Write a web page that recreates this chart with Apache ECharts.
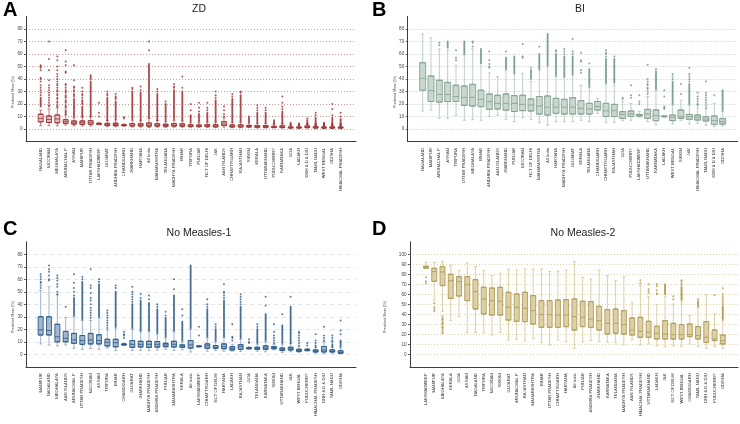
<!DOCTYPE html>
<html><head><meta charset="utf-8">
<script src="https://cdn.jsdelivr.net/npm/echarts@6/dist/echarts.min.js"></script>
<style>html,body{margin:0;padding:0;background:#fff}#c{width:740px;height:424px}</style>
</head><body><div id="c"></div>
<script>
// ---------- DATA ----------
const zdCategories = ["NAGALAND","MIZORAM","MEGHALAYA","ARUNACHAL P","ASSAM","MANIPUR","UTTAR PRADESH","LAKSHADWEEP","GUJARAT","ANDHRA PRADESH","CHANDIGARH","JHARKHAND","HARYANA","All India","MAHARASHTRA","TELANGANA","MADHYA PRADESH","BIHAR","TRIPURA","PUNJAB","NCT OF DELHI","J&K","A&N ISLANDS","CHHATTISGARH","RAJASTHAN","SIKKIM","KERALA","UTTARAKHAND","PUDUCHERRY","KARNATAKA","GOA","LADAKH","DNH & D & DIU","TAMIL NADU","WEST BENGAL","ODISHA","HIMACHAL PRADESH"];
// [lower whisker, Q1, median, Q3, upper whisker]
const zdBoxes = [[2.6,5.8,8.5,11.8,15],[2.6,5.3,7.7,10.4,16],[2.6,5,8,11.2,17],[3.2,4.5,5.8,7.4,11.2],[2.6,4,5,6.4,9],[2.4,3.8,5,6.4,9.5],[2.4,3.8,5,6.6,9.8],[3.5,3.8,4.2,4.5,5],[1.8,2.8,3.5,4.5,6.8],[1.8,2.7,3.5,4.6,7.2],[2.3,2.7,3,3.4,4],[1.6,2.5,3.2,4.4,7],[1.6,2.5,3.2,4.2,6.5],[1.2,2.3,3.2,4.8,8.5],[1.5,2.4,3.1,4.2,6.8],[1.4,2.2,2.8,3.8,6],[1.5,2.4,3.1,4.3,7],[1.5,2.3,3,4.1,6.5],[1.4,2,2.5,3.3,5],[1.3,2,2.5,3.2,5],[1.2,2,2.6,3.5,5.5],[1.1,1.8,2.4,3.4,5.5],[1.5,2.8,4,5.8,9],[1,1.7,2.3,3.2,5.2],[1,1.7,2.3,3.3,5.5],[1.2,1.7,2.2,2.8,4],[0.8,1.4,2,2.8,4.5],[0.8,1.4,2,2.8,4.5],[0.8,1.2,1.6,2.1,3.2],[0.7,1.2,1.7,2.5,4],[0.5,0.9,1.2,1.6,2.4],[0.5,0.9,1.2,1.6,2.4],[0.6,1.2,1.7,2.4,3.8],[0.5,0.9,1.3,1.8,2.9],[0.4,0.8,1.1,1.5,2.4],[0.4,0.8,1.1,1.6,2.6],[0.4,0.8,1.1,1.5,2.4]];
const zdOutliers = [
[51,50,49,47,41,40,38,35,33,31,29,27,25,24,23,22,21,20,19,18],
[70,56,47,39,35,33,31,29,27,25,23,21,19,18],
[58,55,50,47,44,42,40,38,36,35,33,31,30,28,27,25,24,22,21,19,18],
[63,54,51,46,45,36,35,33,31,30,29,27,26,25,23,22,21,19,18,17,15,14,13,12],
[51,39,34,33,31,30,28,27,26,24,23,22,21,20,19,18,17,16,15,14,13,12,11,10],
[33,30,28,27,25,23,22,21,20,18,17,16,15,14,13,12,11,10],
[43,42,41,40,38,37,36,35,34,33,32,31,30,29,28,27,26,25,24,23,22,21,20,19,18,17,16,15,14,13,12,11,10],
[21,13,10],
[30,28,27,25,24,23,22,21,20,19,18,17,16,15,14,13,12,11,10,9,8,7],
[28,26,25,24,22,21,20,19,18,17,16,15,14,13,12,11,10,9,8],
[9.5,8.5],
[33,32,30,29,28,27,26,25,24,23,22,21,20,19,18,17,16,15,14,13,12,11,10,9,8],
[34,31,29,28,27,26,25,24,23,22,21,20,19,18,17,16,15,14,13,12,11,10,9,8,7],
[70,63,52,51,50,49,48,47,46,45,44,43,42,41,40,39,38,37,36,35,34,33,32,31,30,29,28,27,26,25,24,23,22,21,20,19,18,17,16,15,14,13,12,11,10,9],
[32,30,28,27,26,25,24,23,22,21,20,19,18,17,16,15,14,13,12,11,10,9,8,7],
[22,20,19,18,17,16,15,14,13,12,11,10,9,8,7],
[36,34,33,31,30,29,28,27,26,25,24,23,22,21,20,19,18,17,16,15,14,13,12,11,10,9,8],
[42,33,30,29,28,27,26,25,24,23,22,21,20,19,18,17,16,15,14,13,12,11,10,9,8,7],
[20,15,11,10,9,8,7,6],
[21,17,14,12,11,10,9,8,7,6],
[21,17,15,13,12,11,10,9,8,7,6],
[30,27,25,23,22,21,20,19,18,17,16,15,14,13,12,11,10,9,8,7,6],
[18,15,12,10],
[28,26,24,23,22,21,20,19,18,17,16,15,14,13,12,11,10,9,8,7,6],
[30,29,27,26,25,24,23,22,21,20,19,18,17,16,15,14,13,12,11,10,9,8,7,6],
[10,9,8,7,6,5],
[19,17,15,13,12,11,10,9,8,7,6,5],
[17,15,13,12,11,10,9,8,7,6,5],
[7,6,5,4.5,4],
[26,21,18,16,14,13,12,11,10,9,8,7,6,5,4.5],
[5,4,3.5,3],
[4.5,4,3.5,3],
[8.5,7,6,5,4.5,4],
[13,11,9,8,7,6,5,4.5,4,3.5,3.2],
[5,4.5,4,3.5,3,2.7],
[20,16,11,9,8,7,6,5,4.5,4,3.5,3,2.8],
[13,10,8,7,6,5,4.5,4,3.5,3,2.7]];

const biCategories = ["NAGALAND","MANIPUR","ARUNACHAL P","ASSAM","TRIPURA","UTTAR PRADESH","MEGHALAYA","BIHAR","ANDHRA PRADESH","A&N ISLANDS","JHARKHAND","PUNJAB","MIZORAM","NCT OF DELHI","MAHARASHTRA","All India","HARYANA","MADHYA PRADESH","GUJARAT","KERALA","TELANGANA","CHANDIGARH","CHHATTISGARH","RAJASTHAN","GOA","PUDUCHERRY","LAKSHADWEEP","UTTARAKHAND","KARNATAKA","LADAKH","WEST BENGAL","SIKKIM","J&K","HIMACHAL PRADESH","TAMIL NADU","DNH & D & DIU","ODISHA"];
const biBoxes = [[14.4,31,40.5,53,76],[15,22,30.7,42.4,73],[8.5,21.6,27.7,39,64],[8.5,22,27.7,37.3,63],[11,22,26,35,51],[7,19,25.3,34.4,59],[7.5,18.4,25.3,35.7,64],[7,17.9,23.7,31,52.5],[10,15.7,21.9,28,45],[11,16,20.5,27,42],[7.7,15,20.5,28,47],[6,14,20.5,26.7,44],[9,14.7,19.7,27,44.5],[7.7,14.4,19.2,24,38],[5,12,18.4,26,47],[3,11.2,17.5,26.4,50],[6,12.5,17.5,24.5,42],[6,12,17.5,23.7,41],[6,12,17.5,25,43],[7,12,16.5,22.7,35],[6,12,16,20.5,33],[12.5,15.2,18,22,24.5],[5,10,14.5,20.5,36],[5,10,14.7,19.7,35],[6.7,8.5,11.7,13.9,22],[7,10,12,14.4,20.5],[9.5,10.4,11,11.7,14],[6,8.5,12,15.7,26],[3.2,6.7,10.7,15.2,31],[9,9.9,10,10.4,11],[4,6.7,9.3,11.2,19],[7,8.5,9.9,15.2,23],[4,7.7,9.9,11.7,19],[4.5,7.2,9.3,11.2,17],[3,6.4,8,9.9,16],[2,3.7,6.7,10.4,20.5],[2.4,4,5.9,8.3,14]];
const biOutliers = [
[],[],[69,67],[70,69,68,67,66,65],[63,57,55],[70,69,68,67,66,65,64,63,62,61,60],[70,69,66],
[64,63,62,61,60,59,58,57,56,55,54,53],[62,55,52,50,49],[],
[62,57,56,55,54,53,52,51,50,49,48],[58,57,56,55,54,53,52,51,50,49,48,47,46,45],[68,58,57],
[49,47,46,45,44,43,42,41,40],[66,60,59,58,57,56,55,54,53,52,51,50,49,48],
[76,75,74,73,72,71,70,69,68,67,66,65,64,63,62,61,60,59,58,57,56,55,54,53,52,51],
[63,62,60,59,58,57,56,55,54,53,52,51,50,49,48,47,46,45,44,43],
[64,62,60,58,57,56,55,54,53,52,51,50,49,48,47,46,45,44,43,42],
[72,62,60,58,57,56,55,54,53,52,51,50,49,48,47,46,45,44],
[61,55,54,47,45],[52.5,48,47,46,45,44,43,42,41,40,39,38,37,36,35,34],[],
[63,61,60,58,56,55,54,53,52,51,50,49,48,47,46,45,44,43,42,41,40,39,38,37],
[58,56,55,54,53,52,51,50,49,48,47,46,45,44,43,42,41,40,39,38,37],
[25,24],[35,27,25],[27,22,20],[51.5,40,38,36,35,33,32,30,28],
[48,46,45,44,43,42,41,40,39,38,37,36,35,34,33,32],[31,26,18,17,16],
[44,42,40,38,37,36,35,34,33,32,31,30,29,28,27,26,25,24,23,22,21,20],[36,28],
[49,44,42,40,38,36,35,34,33,32,31,30,29,28,27,26,25,24,23,22,21,20],
[29,26,24,22,20,19],[38,29,27,25,23,21,19,17],[27],
[31,30,29,28,27,26,25,24,23,22,21,20,19,18,17,16,15]];

const nm1Categories = ["MANIPUR","NAGALAND","MEGHALAYA","A&N ISLANDS","ARUNACHAL P","UTTAR PRADESH","MIZORAM","ASSAM","TRIPURA","BIHAR","CHANDIGARH","GUJARAT","JHARKHAND","MADHYA PRADESH","ANDHRA PRADESH","PUNJAB","MAHARASHTRA","KERALA","All India","LAKSHADWEEP","CHHATTISGARH","NCT OF DELHI","HARYANA","LADAKH","RAJASTHAN","GOA","TELANGANA","KARNATAKA","SIKKIM","UTTARAKHAND","J&K","WEST BENGAL","PUDUCHERRY","HIMACHAL PRADESH","DNH & D & DIU","TAMIL NADU","ODISHA"];
const nm1Boxes = [[8.3,15.5,19.5,30,51],[7.5,15.5,19,30,54],[6.7,10,14,24,47.5],[7.5,10,12.8,18.3,29.5],[4.8,8.8,11.5,16.7,30],[4,8,11,15,27],[4.5,8.3,11.5,16.7,27],[4,8.3,11,15.6,29],[5,6.7,9.6,12,19.5],[3,6,9.3,12,21],[7.2,7.5,7.9,8.3,8.8],[3,5.6,8,11,20],[3,5.9,8,10.4,18],[3,5.6,8,10.4,18],[3.5,5.8,8,10.2,16],[4,6.1,7.5,8.8,13],[3,5.9,8,10.4,18],[3.5,5.6,6.7,7.5,10],[1.9,5,7.5,11,20],[5.8,6.1,6.4,6.7,7],[2.5,4.8,6.7,8.3,13],[3,4.8,5.6,7,10],[2.5,4.5,6,8.3,13],[2.5,3.5,4.8,6.1,8],[2.2,4,6.1,7.7,12],[4,4.5,5,5.3,6],[2.5,4,4.8,5.6,8],[2,4,5,6.7,10],[3.5,4.5,5.3,6.1,8],[1.5,3,3.7,5,8],[2,3.5,4.3,5.6,8.5],[1.5,2.4,3.2,4,6],[2.5,3,3.5,4,4.8],[1,1.9,2.4,3.5,5.5],[0.8,1.9,3.4,6.2,10],[1,1.9,2.4,3.5,5.5],[0.5,0.9,1.4,2.8,5]];
const nm1Outliers = [
[64,62,60,58,57,55,53],[71,68,66,63,60,59],[63,61,59,56,54,50,48],[38],
[64,57,53,50,47,45,44,43,42,41,40,39,38,37,36,35,34,33,32,31],
[62,60,58,57,56,55,54,53,52,51,50,49,48,47,46,45,44,43,42,41,40,39,38,37,36,35,34,33,32,31,30,29,28],
[68,55,53,49,45,43,40,37,35,33,31,29],
[60,58,56,55,54,53,52,51,50,49,48,47,46,45,44,43,42,41,40,39,38,37,36,35,34,33,32,31,30],
[35,33,31,29,27,25,23,21],
[55,53,50,49,48,47,46,45,44,43,42,41,40,39,38,37,36,35,34,33,32,31,30,29,28,27,26,25,24,23,22],
[18,16,15,13],
[54,50,48,46,44,42,40,39,38,37,36,35,34,33,32,31,30,29,28,27,26,25,24,23,22,21],
[48,45,43,42,41,40,39,38,37,36,35,34,33,32,31,30,29,28,27,26,25,24,23,22,21,20,19],
[47,44,41,40,39,38,37,36,35,34,33,32,31,30,29,28,27,26,25,24,23,22,21,20,19],
[40,38,36,35,34,33,32,31,30,29,28,27,26,25,24,23,22,21,20,19,18,17],
[34,31,29,28,27,26,25,24,23,22,21,20,19,18,17,16,15,14],
[60,52,47,46,45,44,43,42,41,40,39,38,37,36,35,34,33,32,31,30,29,28,27,26,25,24,23,22,21,20,19],
[36,31,26,25,24,23,22,21,20,19,18,17,16,15,14,13,12,11],
[71,70,69,68,67,66,65,64,63,62,61,60,59,58,57,56,55,54,53,52,51,50,49,48,47,46,45,44,43,42,41,40,39,38,37,36,35,34,33,32,31,30,29,28,27,26,25,24,23,22,21],
[22,15],
[44,40,38,36,35,34,33,32,31,30,29,28,27,26,25,24,23,22,21,20,19,18,17,16,15,14],
[24,22,20,19,18,17,16,15,14,13,12,11],
[56,50,49,47,45,43,42,41,40,39,38,37,36,35,34,33,32,31,30,29,28,27,26,25,24,23,22,21,20,19,18,17,16,15,14],
[24,14,13,11],
[48,46,44,42,40,38,37,36,35,34,33,32,31,30,29,28,27,26,25,24,23,22,21,20,19,18,17,16,15,14,13],
[12,10,9],
[24,22,20,19,18,17,16,15,14,13,12,11,10,9],
[46,39,32,31,30,29,28,27,26,25,24,23,22,21,20,19,18,17,16,15,14,13,12,11],
[24,18,15,13,11,9],
[32,23,22,21,20,19,18,17,16,15,14,13,12,11,10,9],
[46,38,37,36,35,34,33,32,31,30,29,28,27,26,25,24,23,22,21,20,19,18,17,16,15,14,13,12,11,10,9],
[18,17,15,13,11,9,7],
[9,7],
[16,11,9,7,6],
[22,15,13,11],
[15,13,11,10,8,7,6],
[27,19,16,11,10,9,8,7,6]];

const nm2Categories = ["LAKSHADWEEP","MANIPUR","MEGHALAYA","KERALA","GOA","ASSAM","NAGALAND","TRIPURA","MIZORAM","SIKKIM","GUJARAT","ARUNACHAL P","RAJASTHAN","MAHARASHTRA","BIHAR","UTTAR PRADESH","CHHATTISGARH","HARYANA","All India","PUNJAB","ANDHRA PRADESH","JHARKHAND","KARNATAKA","TELANGANA","MADHYA PRADESH","A&N ISLANDS","HIMACHAL PRADESH","UTTARAKHAND","LADAKH","J&K","NCT OF DELHI","WEST BENGAL","CHANDIGARH","TAMIL NADU","DNH & D & DIU","PUDUCHERRY","ODISHA"];
const nm2Boxes = [[86,86.2,87,88,92],[54,73,82.7,86,92],[43,68.7,82.3,87.7,93],[33.7,56,73.7,80,88.7],[37.7,58.3,72.7,77.7,83.7],[21.7,53.7,69.7,77.7,91.3],[21.7,45.3,62.7,74.7,87.7],[21.7,40.3,55.3,67,83.7],[19.3,39.3,53.7,66.3,78.7],[21.7,39.3,53,67,81],[14.3,34.3,47,62,85.3],[15,33,47,60.3,84.3],[13.3,32.7,46,62,85.3],[16,30.3,43.7,58.7,85.3],[12,27,39.7,53.7,85.3],[9.3,27,39.7,53.7,83],[14.3,27,39.3,54.3,83],[12.7,27.7,39.3,54.7,84.3],[6,24.3,37.7,55.3,93],[12.7,27.7,37,53,77],[13.7,27,35.3,52.7,75.3],[12.7,24.3,33.7,48,84.3],[12,20.3,31,44.7,78.7],[11.7,21,31,45.3,73.7],[9.3,20.3,29.7,43.7,77.7],[14.3,19.3,24.3,36.3,52],[9.3,17,23,37,68.7],[10.3,17,22,33,57.7],[8.3,15.3,21,28,49.7],[7.7,15.3,20.3,33.7,58],[8.3,15.3,19.7,31,50.3],[7.7,15.3,19.7,29.7,52],[10.3,17.7,19.7,30.3,38.7],[7.7,15.3,18.7,27.7,47],[6,12,17,32.7,59.7],[7.7,13.7,15.3,24.3,40.3],[6,10.3,13.7,19.3,33.7]];
const nm2Outliers = [
[77,73,71],[51,47,45,43],[38,36,35,34,32,31,30,28,27,26,24,22,21],[],[],[],[],[],[],[],[],[],[],[],[],[],[],[],[],[],[],[],[],[],[],[],
[74,71],[70,65,63,61],[70,68,64,61,60],[70,69,68,67,66,65,64,63,62,61,60],[58,55],
[74,73,71,69,67,66,65,64,63,62,61,60,59,58,57,56,55,54],[],[55,53,52,51,50,49,48],[],[59],
[66,60,58,56,54,52,50,48,47,46,45,44,43,42,41,40,39,38,37,36,35]];

// ---------- CHART ----------
const FONT = 'Liberation Sans';
const grid = [], xAxis = [], yAxis = [], series = [];

function addPanel(p) {
  const scale = p.oh / (p.ymax - p.ymin);
  const axisCol = '#3c3c3c';
  // outer frame axes
  let g = grid.length;
  grid.push({left: p.ox, top: p.oy, width: p.ow, height: p.oh, outerBoundsMode: 'none'});
  xAxis.push({type: 'value', gridIndex: g, min: 0, max: 1, axisLine: {show: true, onZero: false, lineStyle: {color: axisCol, width: 1}}, axisTick: {show: false}, axisLabel: {show: false}, splitLine: {show: false}});
  yAxis.push({type: 'value', gridIndex: g, min: p.ymin, max: p.ymax, axisLine: {show: true, onZero: false, lineStyle: {color: axisCol, width: 1}}, axisTick: {show: false}, axisLabel: {show: false}, splitLine: {show: false}});
  // labels / gridlines
  g = grid.length;
  grid.push({left: p.ox, top: p.oy + (p.ymax - p.tickMax) * scale, width: p.ow, height: p.tickMax * scale, outerBoundsMode: 'none'});
  xAxis.push({type: 'value', gridIndex: g, min: 0, max: 1, show: false});
  yAxis.push({type: 'value', gridIndex: g, min: 0, max: p.tickMax, interval: 10,
    axisLine: {show: false}, axisTick: {show: true, length: 2, lineStyle: {color: axisCol, width: 0.8}},
    axisLabel: {fontSize: 4.6, color: '#444', margin: 3.5, fontFamily: FONT},
    splitLine: {show: true, lineStyle: {color: p.gridColor, width: 0.9, type: p.gridType}}});
  // data grid
  g = grid.length;
  grid.push({left: p.ix, top: p.oy, width: p.iw, height: p.oh, outerBoundsMode: 'none'});
  const xi = xAxis.length;
  xAxis.push({type: 'category', gridIndex: g, data: p.cats, axisLine: {show: false}, axisTick: {show: false},
    axisLabel: {rotate: 90, interval: 0, fontSize: 4.2, color: '#333', margin: 6.5, fontFamily: FONT}});
  xAxis.push({type: 'category', gridIndex: g, data: p.cats, show: false});
  const yi = yAxis.length;
  yAxis.push({type: 'value', gridIndex: g, min: p.ymin, max: p.ymax, show: false});

  series.push({type: 'boxplot', xAxisIndex: xi + 1, yAxisIndex: yi, boxWidth: [3, 3], silent: true, z: 2,
    itemStyle: {color: p.whisker, borderColor: p.whisker, borderWidth: 0.9},
    data: p.boxes.map(b => b.slice())});
  series.push({type: 'boxplot', xAxisIndex: xi, yAxisIndex: yi, boxWidth: [p.bw, p.bw], silent: true, z: 3,
    itemStyle: {color: p.fill, borderColor: p.border, borderWidth: 0.9},
    data: p.boxes.map(b => [b[1], b[1], b[2], b[3], b[3]])});
  const pts = [];
  p.outliers.forEach((arr, i) => arr.forEach(v => pts.push([i, v])));
  series.push({type: 'scatter', xAxisIndex: xi, yAxisIndex: yi, symbol: 'circle', symbolSize: 2, silent: true, z: 4,
    itemStyle: {color: p.dot}, data: pts});
}

addPanel({cats: zdCategories, boxes: zdBoxes, outliers: zdOutliers, ox: 26, ow: 330, oy: 16.5, oh: 125, ymin: -10, ymax: 90, tickMax: 80,
  ix: 36.5, iw: 308.3, bw: 5, gridColor: '#cf8a8a', gridType: [1, 2], border: '#a03a3a', fill: '#e8c2c2', whisker: '#bd6a6a', dot: '#9c2f2f'});
addPanel({cats: biCategories, boxes: biBoxes, outliers: biOutliers, ox: 407.7, ow: 330, oy: 16.5, oh: 125, ymin: -10, ymax: 90, tickMax: 80,
  ix: 418.5, iw: 308.3, bw: 6, gridColor: '#b9c9c0', gridType: [1, 2], border: '#88a495', fill: '#c9d8cf', whisker: '#b6c9be', dot: '#6c9281'});
addPanel({cats: nm1Categories, boxes: nm1Boxes, outliers: nm1Outliers, ox: 26, ow: 330, oy: 241.8, oh: 125, ymin: -10, ymax: 90, tickMax: 80,
  ix: 36.5, iw: 308.3, bw: 5, gridColor: '#e4e4e4', gridType: [5, 3], border: '#2f5e8d', fill: '#a3b8ce', whisker: '#93abc4', dot: '#2a5a8a'});
addPanel({cats: nm2Categories, boxes: nm2Boxes, outliers: nm2Outliers, ox: 410, ow: 328, oy: 241.8, oh: 125, ymin: -12.5, ymax: 112.5, tickMax: 100,
  ix: 421.9, iw: 305, bw: 5, gridColor: '#d9cd9e', gridType: [1, 2], border: '#b39d5c', fill: '#ddd0a4', whisker: '#d8cb9d', dot: '#b0954c'});

const panelTitles = [
  {text: 'A', left: 3, top: 0, textStyle: {fontSize: 20, fontWeight: 'bold', color: '#000', fontFamily: FONT}},
  {text: 'B', left: 372, top: 0, textStyle: {fontSize: 20, fontWeight: 'bold', color: '#000', fontFamily: FONT}},
  {text: 'C', left: 3, top: 219, textStyle: {fontSize: 20, fontWeight: 'bold', color: '#000', fontFamily: FONT}},
  {text: 'D', left: 372, top: 219, textStyle: {fontSize: 20, fontWeight: 'bold', color: '#000', fontFamily: FONT}},
  {text: 'ZD', left: 199, top: 4, textAlign: 'center', textStyle: {fontSize: 10.5, fontWeight: 'normal', color: '#222', fontFamily: FONT}},
  {text: 'BI', left: 580, top: 4, textAlign: 'center', textStyle: {fontSize: 10.5, fontWeight: 'normal', color: '#222', fontFamily: FONT}},
  {text: 'No Measles-1', left: 199, top: 228, textAlign: 'center', textStyle: {fontSize: 10.5, fontWeight: 'normal', color: '#222', fontFamily: FONT}},
  {text: 'No Measles-2', left: 583, top: 228, textAlign: 'center', textStyle: {fontSize: 10.5, fontWeight: 'normal', color: '#222', fontFamily: FONT}}
].map(t => Object.assign({padding: 0, itemGap: 0}, t));

function yName(x, y) {
  return {type: 'text', x: x, y: y, rotation: Math.PI / 2, silent: true,
    style: {text: 'Predicted Mean (%)', fontSize: 3.6, fill: '#444', fontFamily: FONT, align: 'center', verticalAlign: 'middle'}};
}

const chart = echarts.init(document.getElementById('c'), null, {renderer: 'canvas'});
chart.setOption({
  animation: false,
  backgroundColor: '#fff',
  title: panelTitles,
  grid: grid, xAxis: xAxis, yAxis: yAxis, series: series,
  graphic: [yName(12.5, 92), yName(395, 92), yName(12.5, 317), yName(385, 317)]
});
</script></body></html>
